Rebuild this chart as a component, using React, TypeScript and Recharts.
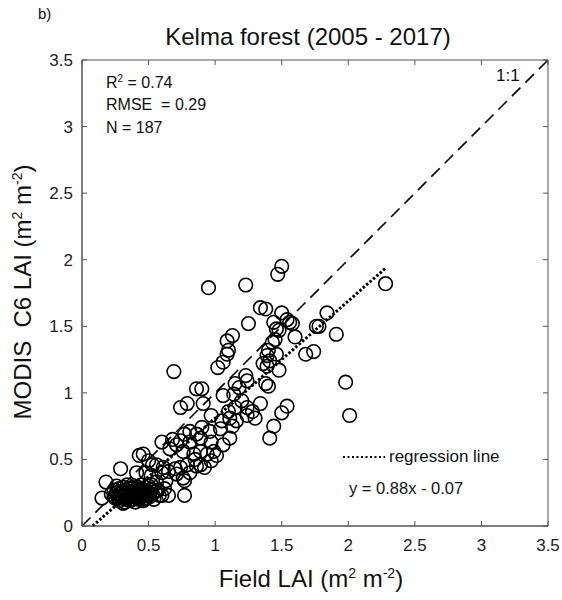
import { ScatterChart, Scatter, XAxis, YAxis, ReferenceLine, ReferenceArea } from 'recharts';

// scattered points (field LAI vs MODIS C6 LAI)
const spreadField = [
  2.28, 1.84, 1.78, 1.91, 1.68, 1.74, 1.98, 2.01, 0.95, 1.23,
  1.5, 1.47, 1.34, 1.38, 1.5, 1.25, 1.44, 1.54, 1.58, 1.48,
  1.6, 1.13, 1.09, 1.43, 1.4, 1.1, 1.09, 1.39, 1.46, 1.06,
  1.02, 1.39, 1.48, 1.23, 1.24, 1.38, 1.15, 0.86, 0.9, 0.69,
  1.76, 1.06, 1.18, 1.4, 0.79, 0.74, 0.91, 1.2, 1.24, 1.28,
  1.34, 1.54, 1.5, 1.44, 1.41, 0.97, 1.05, 1.11, 1.16, 1.24,
  1.3, 0.9, 0.81, 0.77, 0.96, 1.04, 1.13, 1.11, 1.06, 0.97,
  0.89, 0.81, 0.74, 0.89, 0.94, 0.99, 1.01, 0.85, 0.89, 0.92,
  0.97, 0.79, 0.74, 0.81, 0.76, 0.77, 0.77, 0.29, 0.18, 0.15,
  0.43, 0.46, 0.5, 0.56, 0.41, 0.48, 0.6, 0.65, 0.7, 0.71,
  0.6, 0.68, 0.71, 0.86, 0.76, 0.84, 0.56, 0.63, 0.58, 0.65,
  0.86, 0.53, 0.61, 1.36, 1.14, 1.15, 1.1, 1.56, 1.46, 1.45,
  1.41, 0.66, 0.52,
];
const spreadModis = [
  1.82, 1.6, 1.5, 1.44, 1.29, 1.31, 1.08, 0.83, 1.79, 1.81,
  1.95, 1.89, 1.64, 1.63, 1.6, 1.52, 1.53, 1.55, 1.52, 1.47,
  1.42, 1.43, 1.39, 1.38, 1.32, 1.32, 1.29, 1.28, 1.29, 1.23,
  1.19, 1.2, 1.17, 1.13, 1.09, 1.07, 1.07, 1.03, 1.03, 1.16,
  1.5, 0.98, 1.04, 1.05, 0.92, 0.89, 0.92, 0.94, 0.89, 0.86,
  0.92, 0.9, 0.85, 0.75, 0.66, 0.83, 0.79, 0.81, 0.79, 0.83,
  0.81, 0.74, 0.71, 0.69, 0.71, 0.73, 0.75, 0.66, 0.61, 0.63,
  0.66, 0.63, 0.64, 0.56, 0.54, 0.56, 0.53, 0.5, 0.46, 0.44,
  0.49, 0.46, 0.44, 0.4, 0.36, 0.34, 0.23, 0.43, 0.33, 0.21,
  0.53, 0.54, 0.49, 0.46, 0.4, 0.4, 0.4, 0.41, 0.43, 0.39,
  0.63, 0.65, 0.61, 0.69, 0.56, 0.54, 0.33, 0.34, 0.23, 0.23,
  0.45, 0.46, 0.44, 1.22, 0.99, 0.89, 0.86, 1.53, 1.48, 1.4,
  1.24, 0.58, 0.38,
];

// the dense low-LAI cluster
const clusterField = [
  0.22, 0.24, 0.25, 0.26, 0.27, 0.28, 0.28, 0.29, 0.3, 0.3,
  0.31, 0.32, 0.32, 0.33, 0.33, 0.34, 0.35, 0.35, 0.36, 0.36,
  0.37, 0.37, 0.38, 0.38, 0.39, 0.39, 0.4, 0.4, 0.41, 0.41,
  0.42, 0.42, 0.43, 0.43, 0.44, 0.44, 0.45, 0.46, 0.46, 0.47,
  0.48, 0.48, 0.49, 0.5, 0.5, 0.51, 0.52, 0.53, 0.54, 0.55,
  0.26, 0.31, 0.34, 0.45, 0.29, 0.36, 0.4, 0.47, 0.52, 0.57,
  0.6, 0.62, 0.24, 0.33,
];
const clusterModis = [
  0.24, 0.27, 0.21, 0.25, 0.22, 0.28, 0.19, 0.24, 0.26, 0.21,
  0.29, 0.23, 0.18, 0.25, 0.27, 0.21, 0.24, 0.28, 0.19, 0.22,
  0.26, 0.23, 0.29, 0.2, 0.25, 0.22, 0.27, 0.18, 0.24, 0.21,
  0.26, 0.29, 0.23, 0.2, 0.25, 0.28, 0.22, 0.24, 0.19, 0.27,
  0.23, 0.21, 0.26, 0.24, 0.3, 0.22, 0.27, 0.24, 0.2, 0.26,
  0.3, 0.17, 0.31, 0.31, 0.22, 0.25, 0.23, 0.2, 0.31, 0.27,
  0.23, 0.28, 0.22, 0.2,
];

const axisTicks = [0, 0.5, 1, 1.5, 2, 2.5, 3, 3.5];
const tickLabels = ['0', '0.5', '1', '1.5', '2', '2.5', '3', '3.5'];

// y = 0.88x - 0.07, drawn over the field LAI range
const regSlope = 0.88;
const regIntercept = -0.07;
const regRange = [0.08, 2.28];

const FONT = '"Liberation Sans", Arial, Helvetica, sans-serif';
const AXIS_COLOR = '#555';
const PLOT = { left: 82, top: 60, size: 466 };

const points = [
  ...spreadField.map((x, i) => ({ x, y: spreadModis[i] })),
  ...clusterField.map((x, i) => ({ x, y: clusterModis[i] })),
];

const labelFor = (v: number) => tickLabels[axisTicks.indexOf(v)] ?? String(v);

// MATLAB-like ticks: inward on both opposite sides of the box
const BottomTick = (props: any) => {
  const { x, y, payload } = props;
  return (
    <g>
      <line x1={x} x2={x} y1={y} y2={y - 5} stroke={AXIS_COLOR} />
      <line x1={x} x2={x} y1={PLOT.top} y2={PLOT.top + 5} stroke={AXIS_COLOR} />
      <text x={x} y={y + 25} textAnchor="middle" fontSize={17} fill="#222" fontFamily={FONT}>
        {labelFor(payload.value)}
      </text>
    </g>
  );
};

const LeftTick = (props: any) => {
  const { x, y, payload } = props;
  const right = PLOT.left + PLOT.size;
  return (
    <g>
      <line x1={x} x2={x + 5} y1={y} y2={y} stroke={AXIS_COLOR} />
      <line x1={right} x2={right - 5} y1={y} y2={y} stroke={AXIS_COLOR} />
      <text x={x - 9} y={y + 6} textAnchor="end" fontSize={17} fill="#222" fontFamily={FONT}>
        {labelFor(payload.value)}
      </text>
    </g>
  );
};

const OpenCircle = (props: any) => {
  const { cx, cy } = props;
  if (cx == null || cy == null) return <g />;
  return <circle cx={cx} cy={cy} r={6.8} fill="none" stroke="#000" strokeWidth={1.6} />;
};

export default function App() {
  const text = { position: 'absolute' as const, fontFamily: FONT, color: '#111', whiteSpace: 'pre' as const, lineHeight: 1 };
  return (
    <div style={{ position: 'absolute', left: 0, top: 0, width: 562, height: 600, background: '#fff' }}>
      <ScatterChart width={562} height={600} margin={{ top: PLOT.top, right: 562 - PLOT.left - PLOT.size, bottom: 0, left: 0 }}>
        <XAxis
          type="number"
          dataKey="x"
          domain={[0, 3.5]}
          ticks={axisTicks}
          height={600 - PLOT.top - PLOT.size}
          tickSize={0}
          tickMargin={0}
          tickLine={false}
          stroke={AXIS_COLOR}
          tick={<BottomTick />}
        />
        <YAxis
          type="number"
          dataKey="y"
          domain={[0, 3.5]}
          ticks={axisTicks}
          width={PLOT.left}
          tickSize={0}
          tickMargin={0}
          tickLine={false}
          stroke={AXIS_COLOR}
          tick={<LeftTick />}
        />
        <ReferenceArea x1={0} x2={3.5} y1={0} y2={3.5} fill="none" stroke={AXIS_COLOR} strokeWidth={1} />
        <ReferenceLine
          segment={[{ x: 0, y: 0 }, { x: 3.5, y: 3.5 }]}
          stroke="#000"
          strokeWidth={1.6}
          strokeDasharray="12 7"
        />
        <ReferenceLine
          segment={[
            { x: regRange[0], y: regSlope * regRange[0] + regIntercept },
            { x: regRange[1], y: regSlope * regRange[1] + regIntercept },
          ]}
          stroke="#000"
          strokeWidth={3}
          strokeDasharray="2.5 2"
        />
        <Scatter data={points} shape={<OpenCircle />} isAnimationActive={false} />
      </ScatterChart>

      <div style={{ ...text, left: 38, top: 6, fontSize: 15 }}>b)</div>
      <div style={{ ...text, left: 0, width: 616, top: 25, fontSize: 24, textAlign: 'center' }}>
        Kelma forest (2005 - 2017)
      </div>
      <div style={{ ...text, left: 106, top: 74, fontSize: 16 }}>
        R<sup style={{ fontSize: 10 }}>2</sup> = 0.74
      </div>
      <div style={{ ...text, left: 106, top: 97, fontSize: 16 }}>RMSE  = 0.29</div>
      <div style={{ ...text, left: 106, top: 120, fontSize: 16 }}>N = 187</div>
      <div style={{ ...text, left: 496, top: 67, fontSize: 17 }}>1:1</div>

      <svg style={{ position: 'absolute', left: 340, top: 451 }} width={48} height={12}>
        <line x1={3} x2={45} y1={6} y2={6} stroke="#000" strokeWidth={2} strokeDasharray="2 2.5" />
      </svg>
      <div style={{ ...text, left: 389, top: 448, fontSize: 17 }}>regression line</div>
      <div style={{ ...text, left: 349, top: 480, fontSize: 16.5 }}>y = 0.88x - 0.07</div>

      <div style={{ ...text, left: 0, width: 622, top: 566, fontSize: 24, textAlign: 'center' }}>
        Field LAI (m<sup style={{ fontSize: 14 }}>2</sup> m<sup style={{ fontSize: 14 }}>-2</sup>)
      </div>
      <div
        style={{
          ...text,
          left: 22 - 200,
          width: 400,
          top: 292 - 12,
          fontSize: 24,
          textAlign: 'center',
          transform: 'rotate(-90deg)',
          transformOrigin: '200px 12px',
        }}
      >
        MODIS  C6 LAI (m<sup style={{ fontSize: 14 }}>2</sup> m<sup style={{ fontSize: 14 }}>-2</sup>)
      </div>
    </div>
  );
}
